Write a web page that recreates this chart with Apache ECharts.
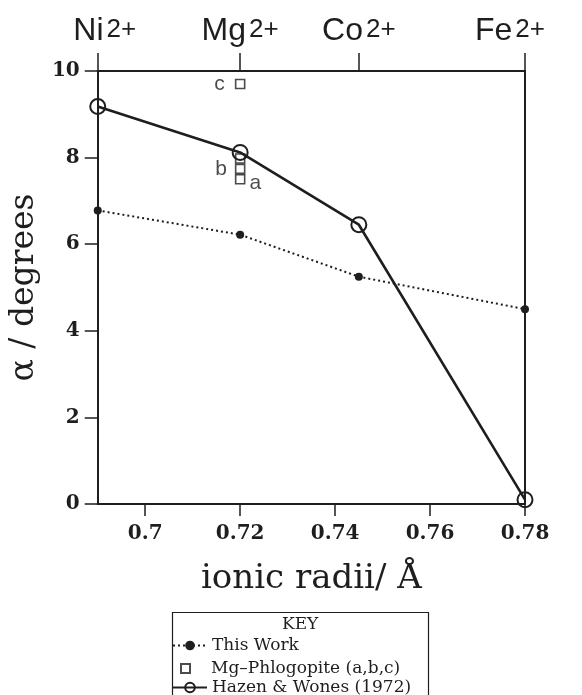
<!DOCTYPE html>
<html><head><meta charset="utf-8">
<script src="https://cdn.jsdelivr.net/npm/echarts@6/dist/echarts.min.js"></script>
<style>html,body{margin:0;padding:0;background:#fff}#c{width:582px;height:695px}</style>
</head><body><div id="c"></div>
<script>
// ---- data ----
const radii = [0.69, 0.72, 0.745, 0.78];
const ions = ['Ni', 'Mg', 'Co', 'Fe'];
const thisWork = [6.78, 6.22, 5.25, 4.5];
const hazenWones = [9.18, 8.12, 6.45, 0.1];
const phlogRadii = [0.72, 0.72, 0.72, 0.72];
const phlogValues = [9.7, 7.98, 7.74, 7.5];
const phlogLabels = ['c', '', 'b', 'a'];
const bottomTicks = [0.70, 0.72, 0.74, 0.76, 0.78];
const seriesNames = ['This Work', 'Mg\u2013Phlogopite (a,b,c)', 'Hazen & Wones (1972)'];

const INK = '#1e1e1e';
const SERIF = '"DejaVu Serif", serif';
const SANS = '"Liberation Sans", Arial, sans-serif';

const pairs = (xs, ys) => xs.map((x, i) => [x, ys[i]]);
const phlogData = phlogRadii.map((x, i) => {
  const lab = phlogLabels[i];
  return {
    value: [x, phlogValues[i]],
    label: {
      show: lab !== '',
      formatter: lab,
      position: lab === 'a' ? 'right' : 'left',
      distance: lab === 'a' ? 4 : (lab === 'c' ? 10 : 8),
      offset: lab === 'a' ? [0, 4] : [0, 0]
    }
  };
});

const legendText = {fontFamily: SERIF, fontSize: 17, color: INK};

const chart = echarts.init(document.getElementById('c'), null, {renderer: 'canvas'});
chart.setOption({
  backgroundColor: '#fff',
  animation: false,
  title: {
    text: 'KEY', left: 172, top: 612,
    padding: [4, 110, 90, 110],
    borderColor: INK, borderWidth: 1.2,
    textStyle: {fontFamily: SERIF, fontSize: 17, fontWeight: 'normal', color: INK}
  },
  legend: [
    {left: 172, top: 637, padding: 0, itemWidth: 34, itemHeight: 12,
     textStyle: legendText, data: [seriesNames[0]]},
    {left: 180, top: 660, padding: 0, itemWidth: 9, itemHeight: 9,
     textStyle: Object.assign({padding: [0, 0, 0, 16]}, legendText), data: [seriesNames[1]]},
    {left: 172, top: 679, padding: 0, itemWidth: 34, itemHeight: 12,
     textStyle: legendText, data: [seriesNames[2]]}
  ],
  grid: {left: 97, right: 57, top: 71, bottom: 191, containLabel: false},
  xAxis: [
    {
      type: 'value', position: 'bottom', min: 0.69, max: 0.78,
      splitLine: {show: false},
      axisLine: {show: true, onZero: false, lineStyle: {color: INK, width: 2}},
      axisTick: {show: true, inside: false, length: 12, customValues: bottomTicks, lineStyle: {color: INK, width: 1.5}},
      axisLabel: {show: true, customValues: bottomTicks, margin: 20, fontFamily: SERIF, fontWeight: 'bold', fontSize: 20, color: INK,
        formatter: v => String(+v.toFixed(3))},
      name: 'ionic radii/ \u00c5', nameLocation: 'middle', nameGap: 58,
      nameTextStyle: {fontFamily: SERIF, fontSize: 34, color: INK}
    },
    {
      type: 'value', position: 'top', min: 0.69, max: 0.78,
      splitLine: {show: false},
      axisLine: {show: true, onZero: false, lineStyle: {color: INK, width: 2}},
      axisTick: {show: true, inside: false, length: 18, customValues: radii, lineStyle: {color: INK, width: 1.5}},
      axisLabel: {show: true, customValues: radii, margin: 24, color: INK,
        formatter: v => {
          const i = radii.findIndex(r => Math.abs(r - v) < 1e-6);
          const ion = ions[i];
          if (ion === 'Ni') return '{p|}{n|Ni}{s|2+}';
          if (ion === 'Fe') return '{n|Fe}{s|2+}{q|}';
          return '{n|' + ion + '}{s|2+}';
        },
        rich: {
          n: {fontFamily: SANS, fontSize: 32, color: INK, lineHeight: 34, verticalAlign: 'bottom'},
          s: {fontFamily: SANS, fontSize: 26, color: INK, lineHeight: 34, verticalAlign: 'top', padding: [4, 0, 0, 3]},
          p: {width: 14},
          q: {width: 30}
        }
      }
    }
  ],
  yAxis: [
    {
      type: 'value', position: 'left', min: 0, max: 10, interval: 2,
      splitLine: {show: false},
      axisLine: {show: true, onZero: false, lineStyle: {color: INK, width: 2}},
      axisTick: {show: true, inside: false, length: 13, lineStyle: {color: INK, width: 1.5}},
      axisLabel: {margin: 18, fontFamily: SERIF, fontWeight: 'bold', fontSize: 20, color: INK},
      name: '\u03b1 / degrees', nameLocation: 'middle', nameGap: 50, nameRotate: 90,
      nameTextStyle: {fontFamily: SERIF, fontSize: 33, color: INK}
    },
    {
      type: 'value', position: 'right', min: 0, max: 10,
      splitLine: {show: false},
      axisLine: {show: true, onZero: false, lineStyle: {color: INK, width: 2}},
      axisTick: {show: false}, axisLabel: {show: false}
    }
  ],
  series: [
    {
      name: seriesNames[0], type: 'line', data: pairs(radii, thisWork),
      symbol: 'circle', symbolSize: 8,
      itemStyle: {color: INK},
      lineStyle: {color: INK, width: 2, type: [2, 3]},
      z: 3
    },
    {
      name: seriesNames[1], type: 'scatter', data: phlogData,
      symbol: 'rect', symbolSize: [9, 9],
      itemStyle: {color: '#fff', borderColor: INK, borderWidth: 1.6},
      label: {color: INK, fontFamily: SANS, fontSize: 21},
      z: 2
    },
    {
      name: seriesNames[2], type: 'line', data: pairs(radii, hazenWones),
      symbol: 'circle', symbolSize: 15,
      itemStyle: {color: 'rgba(255,255,255,0)', borderColor: INK, borderWidth: 2},
      lineStyle: {color: INK, width: 2.6},
      z: 4
    }
  ]
});
</script>
</body></html>
